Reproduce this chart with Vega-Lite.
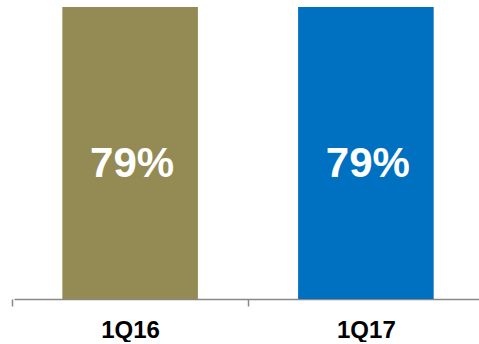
{
  "$schema": "https://vega.github.io/schema/vega-lite/v6.json",
  "width": 468,
  "height": 292,
  "padding": {"left": 11, "top": 7, "right": 0, "bottom": 0},
  "background": "white",
  "config": {"view": {"stroke": null}, "font": "Liberation Sans"},
  "data": {"values": [
    {"quarter": "1Q16", "value": 0.79},
    {"quarter": "1Q17", "value": 0.79}
  ]},
  "encoding": {
    "x": {
      "field": "quarter", "type": "nominal", "sort": null,
      "scale": {"paddingInner": 0.425, "paddingOuter": 0.205},
      "axis": {
        "title": null, "labelAngle": 0, "domainColor": "#888888", "domainWidth": 1.5,
        "tickColor": "#888888", "tickSize": 7, "tickWidth": 1.5, "tickOffset": -118, "labelOffset": 118,
        "labelFont": "Liberation Sans", "labelFontWeight": "bold", "labelFontSize": 24,
        "labelColor": "#000000", "labelPadding": 12
      }
    },
    "y": {
      "field": "value", "type": "quantitative",
      "scale": {"domain": [0, 0.79], "nice": false},
      "axis": null
    }
  },
  "layer": [
    {
      "mark": {"type": "bar"},
      "encoding": {
        "color": {
          "field": "quarter", "type": "nominal",
          "scale": {"domain": ["1Q16", "1Q17"], "range": ["#948A54", "#0070C0"]},
          "legend": null
        }
      }
    },
    {
      "mark": {"type": "text", "baseline": "alphabetic", "dx": 2, "dy": 170, "fontSize": 42, "fontWeight": "bold", "color": "#ffffff", "font": "Liberation Sans"},
      "encoding": {
        "text": {"field": "value", "type": "quantitative", "format": ".0%"}
      }
    }
  ]
}
